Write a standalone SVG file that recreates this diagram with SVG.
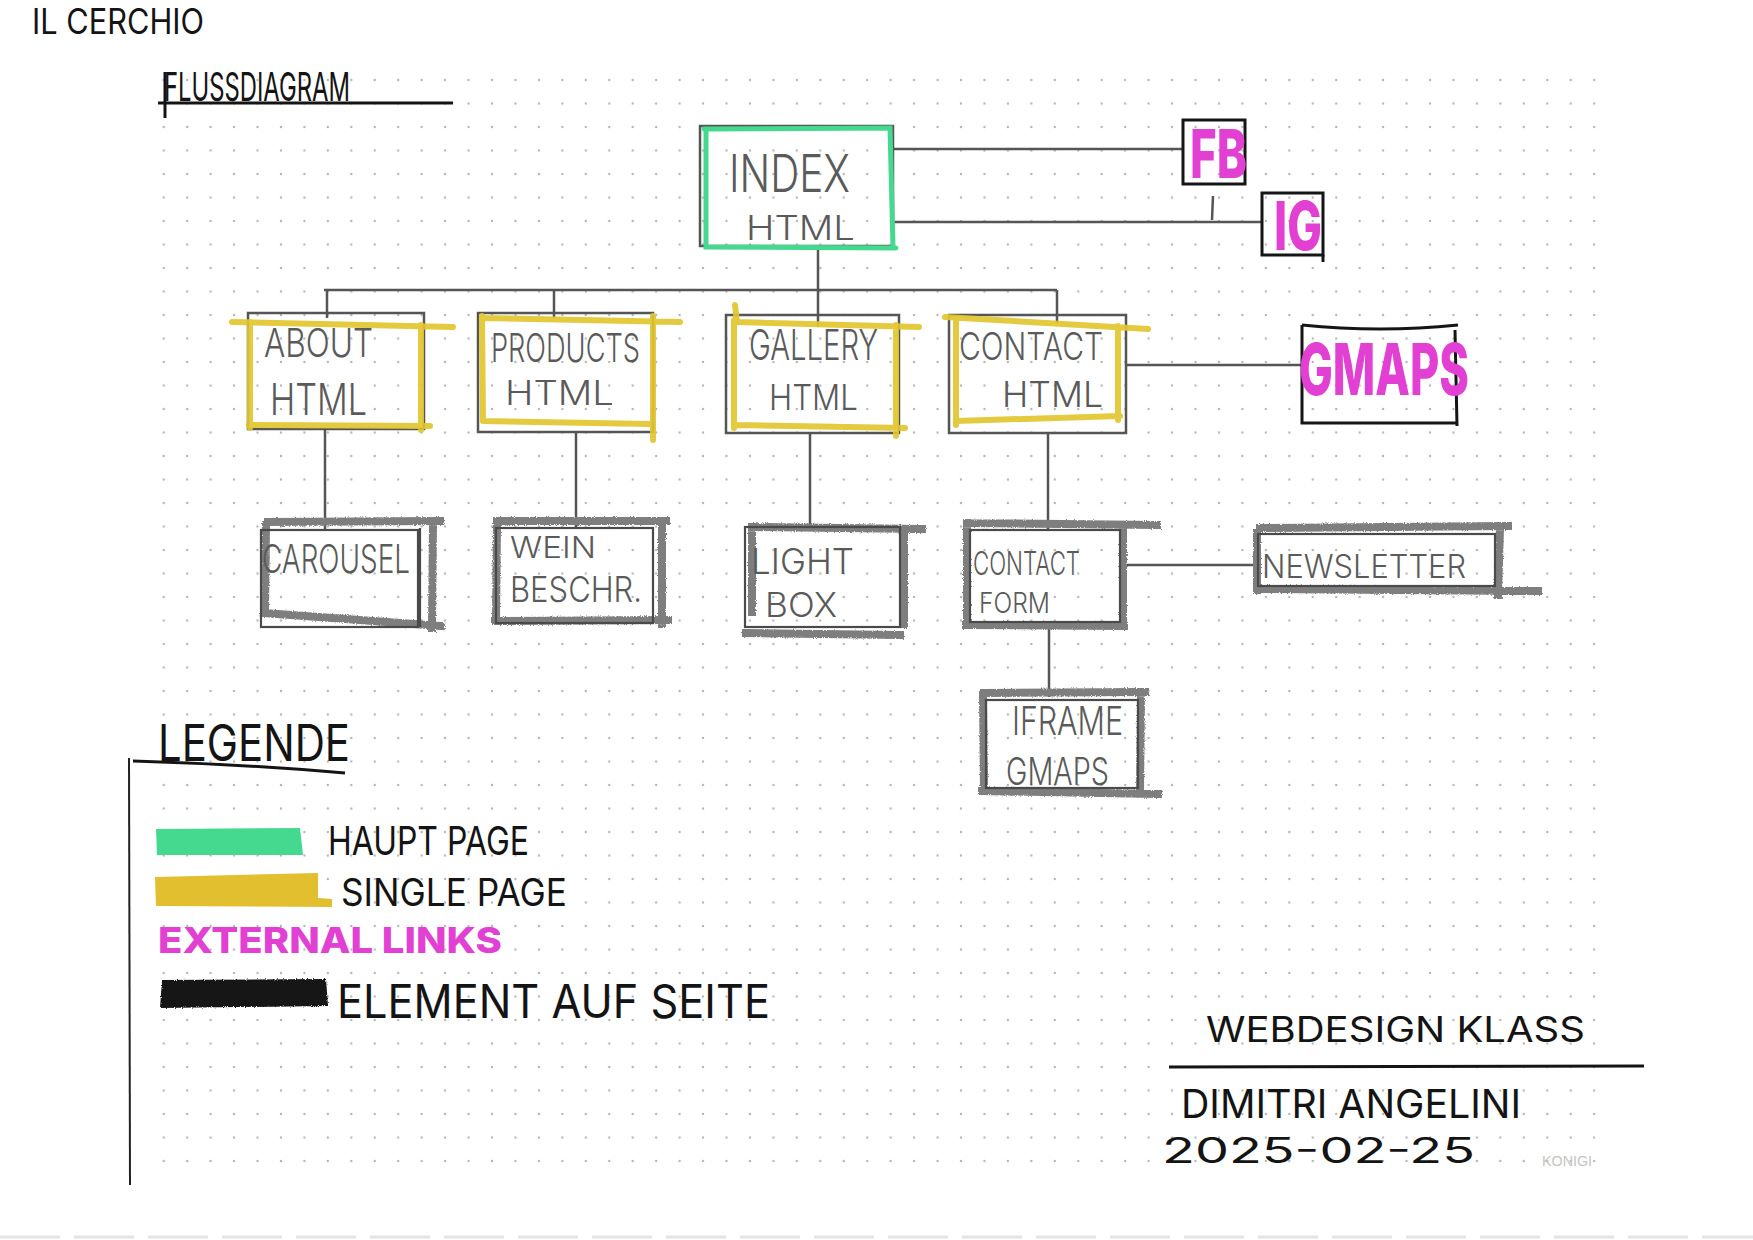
<svg xmlns="http://www.w3.org/2000/svg" width="1753" height="1240" viewBox="0 0 1753 1240">
<defs>
<pattern id="dots" patternUnits="userSpaceOnUse" x="152" y="68.25" width="23.45" height="23.5">
<circle cx="11.7" cy="11.75" r="1.2" fill="#b4b4b4"/>
</pattern>
<filter id="grain" x="-5%" y="-5%" width="110%" height="110%">
<feTurbulence type="fractalNoise" baseFrequency="0.9" numOctaves="2" seed="3" result="n"/>
<feDisplacementMap in="SourceGraphic" in2="n" scale="3"/>
</filter>
</defs>
<style>
.ink{font-family:"Inter","Liberation Sans",sans-serif;font-weight:400;fill:#141414}
.pen{font-family:"Inter","Liberation Sans",sans-serif;font-weight:300;fill:#5a5a5a}
.mag{font-family:"Inter","Liberation Sans",sans-serif;font-weight:800;fill:#e23fd3}
.box{fill:none;stroke:#555;stroke-width:2.5}
.inkbox{fill:none;stroke:#151515;stroke-width:3}
.thick{fill:none;stroke:#7e7e7e;stroke-width:8;stroke-linecap:square;filter:url(#grain)}
.thin{fill:none;stroke:#4a4a4a;stroke-width:2.2}
.yel{fill:none;stroke:#e2c52e;stroke-width:6;stroke-linecap:round;opacity:0.92}
.grn{fill:none;stroke:#45d98f;stroke-width:5;stroke-linecap:round}
.conn{fill:none;stroke:#555;stroke-width:2.5}
.rule{fill:none;stroke:#141414;stroke-width:3}
</style>
<rect width="1753" height="1240" fill="#ffffff"/>
<rect x="152" y="68" width="1453" height="1106" fill="url(#dots)"/>
<line x1="0" y1="1237" x2="1753" y2="1237" stroke="#e4e4e4" stroke-width="3" stroke-dasharray="60 14"/>

<g id="title">
<text class="ink" x="32" y="34" font-size="35" textLength="172" lengthAdjust="spacingAndGlyphs">IL CERCHIO</text>
</g>
<g id="flussdiagram-heading">
<text class="ink" x="164" y="101" font-size="40" textLength="186" lengthAdjust="spacingAndGlyphs">FLUSSDIAGRAM</text>
<line class="rule" x1="158" y1="103" x2="453" y2="103"/>
<line class="rule" x1="165" y1="72" x2="165" y2="118" stroke-width="2"/>
</g>

<g id="connectors">
<line class="conn" x1="893" y1="149" x2="1183" y2="149"/>
<line class="conn" x1="893" y1="222" x2="1262" y2="222"/>
<line class="conn" x1="1213" y1="196" x2="1212" y2="220" stroke-width="1.5"/>
<line class="conn" x1="818" y1="246" x2="818" y2="327"/>
<line class="conn" x1="324" y1="290" x2="1057" y2="290"/>
<line class="conn" x1="327" y1="290" x2="327" y2="318"/>
<line class="conn" x1="554" y1="290" x2="554" y2="318"/>
<line class="conn" x1="1057" y1="290" x2="1057" y2="323"/>
<line class="conn" x1="1126" y1="365" x2="1302" y2="365"/>
<line class="conn" x1="325" y1="429" x2="325" y2="530"/>
<line class="conn" x1="576" y1="432" x2="576" y2="528"/>
<line class="conn" x1="810" y1="433" x2="810" y2="528"/>
<line class="conn" x1="1048" y1="433" x2="1048" y2="530"/>
<line class="conn" x1="1123" y1="565" x2="1256" y2="565"/>
<line class="conn" x1="1049" y1="625" x2="1049" y2="697"/>
</g>

<g id="node-index">
<rect class="box" x="700" y="126" width="193" height="120"/>
<path class="grn" d="M706,130 L706,247 L896,248 M704,129 L890,128 L893,247"/>
<text class="pen" x="729" y="192" font-size="52" textLength="121" lengthAdjust="spacingAndGlyphs">INDEX</text>
<text class="pen" x="746" y="240" font-size="34" textLength="109" lengthAdjust="spacingAndGlyphs">HTML</text>
</g>

<g id="node-fb">
<rect class="inkbox" x="1183" y="120" width="62" height="64"/>
<text class="mag" x="1190" y="178" font-size="68" textLength="57" lengthAdjust="spacingAndGlyphs">FB</text>
</g>

<g id="node-ig">
<rect class="inkbox" x="1262" y="193" width="61" height="62"/>
<line class="inkbox" x1="1323" y1="255" x2="1323" y2="262"/>
<text class="mag" x="1274" y="250" font-size="68" textLength="48" lengthAdjust="spacingAndGlyphs">IG</text>
</g>

<g id="node-about">
<rect class="box" x="248" y="313" width="176" height="116"/>
<path class="yel" d="M232,322 L453,327 M250,322 L250,428 M249,425 L430,426 M421,325 L421,430"/>
<text class="pen" x="264" y="357" font-size="40" textLength="109" lengthAdjust="spacingAndGlyphs">ABOUT</text>
<text class="pen" x="270" y="415" font-size="44" textLength="97" lengthAdjust="spacingAndGlyphs">HTML</text>
</g>

<g id="node-products">
<rect class="box" x="478" y="313" width="175" height="119"/>
<path class="yel" d="M484,318 L680,322 M482,316 L483,420 M483,421 L650,424 M653,316 L653,440"/>
<text class="pen" x="491" y="362" font-size="40" textLength="149" lengthAdjust="spacingAndGlyphs">PRODUCTS</text>
<text class="pen" x="505" y="405" font-size="34" textLength="109" lengthAdjust="spacingAndGlyphs">HTML</text>
</g>

<g id="node-gallery">
<rect class="box" x="726" y="315" width="173" height="118"/>
<path class="yel" d="M735,305 L737,322 L919,327 M734,320 L734,428 M735,425 L905,428 M896,325 L896,436"/>
<text class="pen" x="749" y="360" font-size="42" textLength="129" lengthAdjust="spacingAndGlyphs">GALLERY</text>
<text class="pen" x="769" y="410" font-size="36" textLength="89" lengthAdjust="spacingAndGlyphs">HTML</text>
</g>

<g id="node-contact">
<rect class="box" x="949" y="315" width="177" height="118"/>
<path class="yel" d="M945,317 L1148,329 M956,322 L956,425 M956,421 L1120,416 M1118,326 L1118,420"/>
<text class="pen" x="959" y="360" font-size="38" textLength="144" lengthAdjust="spacingAndGlyphs">CONTACT</text>
<text class="pen" x="1002" y="407" font-size="36" textLength="101" lengthAdjust="spacingAndGlyphs">HTML</text>
</g>

<g id="node-gmaps">
<path class="inkbox" d="M1302,325 Q1380,333 1458,325 M1302,325 L1302,423 L1458,423 M1455,330 L1457,426"/>
<text class="mag" x="1299" y="395" font-size="72" textLength="170" lengthAdjust="spacingAndGlyphs">GMAPS</text>
</g>

<g id="node-carousel">
<path class="thick" d="M268,522 L440,521 M433,522 L432,628 M264,613 L441,626 M266,525 L265,613"/>
<rect class="thin" x="261" y="530" width="157" height="97"/>
<line class="thin" x1="420" y1="528" x2="420" y2="627"/>
<text class="pen" x="262" y="573" font-size="40" textLength="148" lengthAdjust="spacingAndGlyphs">CAROUSEL</text>
</g>

<g id="node-wein">
<path class="thick" d="M497,521 L666,521 M662,522 L662,624 M495,621 L668,620 M497,524 L496,620"/>
<rect class="thin" x="496" y="528" width="157" height="95"/>
<text class="pen" x="510" y="558" font-size="30" textLength="86" lengthAdjust="spacingAndGlyphs">WEIN</text>
<text class="pen" x="510" y="602" font-size="36" textLength="132" lengthAdjust="spacingAndGlyphs">BESCHR.</text>
</g>

<g id="node-lightbox">
<path class="thick" d="M752,527 L922,529 M904,535 L904,624 M746,633 L900,635 M752,527 L752,612"/>
<rect class="thin" x="745" y="527" width="155" height="100"/>
<text class="pen" x="751" y="574" font-size="36" textLength="103" lengthAdjust="spacingAndGlyphs">LIGHT</text>
<text class="pen" x="765" y="617" font-size="34" textLength="72" lengthAdjust="spacingAndGlyphs">BOX</text>
</g>

<g id="node-contactform">
<path class="thick" d="M967,523 L1157,525 M1123,525 L1123,625 M966,625 L1124,626 M967,523 L967,624"/>
<rect class="thin" x="970" y="530" width="150" height="92"/>
<text class="pen" x="973" y="575" font-size="32" textLength="107" lengthAdjust="spacingAndGlyphs">CONTACT</text>
<text class="pen" x="979" y="613" font-size="28" textLength="71" lengthAdjust="spacingAndGlyphs">FORM</text>
</g>

<g id="node-newsletter">
<path class="thick" d="M1260,528 L1508,526 M1500,528 L1498,595 M1258,589 L1538,591 M1257,533 L1257,590"/>
<rect class="thin" x="1258" y="534" width="237" height="52"/>
<text class="pen" x="1262" y="578" font-size="32" textLength="204" lengthAdjust="spacingAndGlyphs">NEWSLETTER</text>
</g>

<g id="node-iframe">
<path class="thick" d="M984,693 L1145,692 M1141,693 L1140,792 M982,791 L1158,794 M983,695 L984,790"/>
<rect class="thin" x="986" y="700" width="152" height="88"/>
<text class="pen" x="1012" y="735" font-size="40" textLength="111" lengthAdjust="spacingAndGlyphs">IFRAME</text>
<text class="pen" x="1006" y="785" font-size="38" textLength="103" lengthAdjust="spacingAndGlyphs">GMAPS</text>
</g>

<g id="legend">
<text class="ink" x="158" y="761" font-size="50" textLength="192" lengthAdjust="spacingAndGlyphs">LEGENDE</text>
<path class="rule" d="M133,761 Q240,764 345,773"/>
<line x1="129" y1="758" x2="130" y2="1185" stroke="#222" stroke-width="2"/>
<path d="M156,829 L300,828 L303,855 L157,855 Z" fill="#45d98f"/>
<text class="ink" x="328" y="855" font-size="40" textLength="201" lengthAdjust="spacingAndGlyphs">HAUPT PAGE</text>
<path d="M155,877 L318,873 L318,898 L332,899 L332,907 L156,906 Z" fill="#e2bf2e"/>
<text class="ink" x="341" y="906" font-size="38" textLength="226" lengthAdjust="spacingAndGlyphs">SINGLE PAGE</text>
<text class="mag" x="158" y="953" font-size="36" textLength="344" lengthAdjust="spacingAndGlyphs">EXTERNAL LINKS</text>
<path d="M162,980 L326,979 L328,1006 L160,1008 Z" fill="#141414" filter="url(#grain)"/>
<text class="ink" x="337" y="1018" font-size="46" textLength="433" lengthAdjust="spacingAndGlyphs">ELEMENT AUF SEITE</text>
</g>

<g id="signature">
<text class="ink" x="1206" y="1042" font-size="35" textLength="379" lengthAdjust="spacingAndGlyphs">WEBDESIGN KLASS</text>
<line class="rule" x1="1169" y1="1067" x2="1644" y2="1066"/>
<text class="ink" x="1181" y="1118" font-size="40" textLength="340" lengthAdjust="spacingAndGlyphs">DIMITRI ANGELINI</text>
<text class="ink" x="1162" y="1163" font-size="35" textLength="313" lengthAdjust="spacingAndGlyphs">2025-02-25</text>
<text x="1542" y="1166" font-family="Liberation Sans, sans-serif" font-size="14" fill="#c4c4c4" textLength="50" lengthAdjust="spacingAndGlyphs">KONIGI</text>
</g>
</svg>
